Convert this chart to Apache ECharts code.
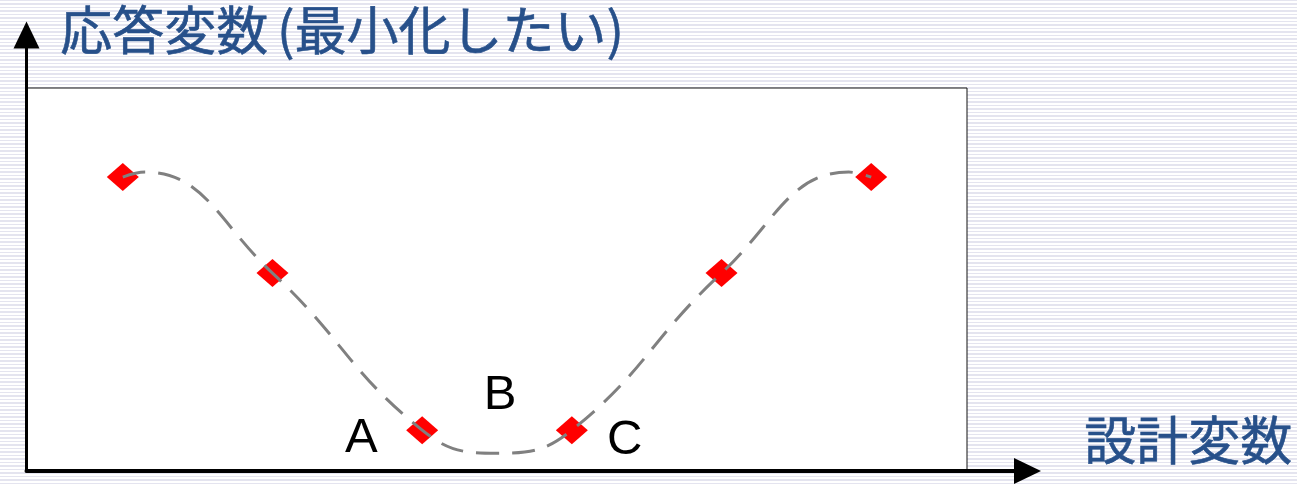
<!DOCTYPE html>
<html>
<head>
<meta charset="utf-8">
<script src="https://cdn.jsdelivr.net/npm/echarts@6/dist/echarts.min.js"></script>
<style>
html,body{margin:0;padding:0;}
body{width:1297px;height:485px;overflow:hidden;
background:repeating-linear-gradient(to bottom,#e4e4ef 0px,#e4e4ef 1.5px,#ffffff 1.5px,#ffffff 3.5px);}
#c{width:1297px;height:485px;}
</style>
</head>
<body>
<div id="c"></div>
<script>
// Sample design points (x, response)
const pointX = [1, 2, 3, 4, 5, 6];
const pointY = [7.68, 5.18, 1.09, 1.09, 5.18, 7.68];
// Dashed response curve
const curveX = [1, 1.15, 2, 3, 3.5, 4, 5, 5.85, 6];
const curveY = [7.68, 7.81, 5.18, 1.09, 0.49, 1.09, 5.18, 7.81, 7.68];
// Point labels
const labelNames = ['A', 'B', 'C'];
const labelX = [2.593, 3.52, 4.353];
const labelY = [0.88, 1.98, 0.81];
const yTitle = '応答変数\u2006(最小化したい)';
const xTitle = '設計変数';

const chart = echarts.init(document.getElementById('c'), null, {renderer: 'canvas'});
const hidden = {show: false};
chart.setOption({
  animation: false,
  backgroundColor: 'transparent',
  grid: [
    {left: 27, top: 88, width: 940, height: 384, show: true, backgroundColor: '#ffffff', borderColor: '#111111', borderWidth: 1, z: 1},
    {left: 26.5, top: 35, width: 1001, height: 436, show: false, z: 5}
  ],
  xAxis: [
    {gridIndex: 0, type: 'value', min: 0.36, max: 6.64, axisLine: hidden, axisTick: hidden, axisLabel: hidden, splitLine: hidden},
    {gridIndex: 1, type: 'value', min: 0, max: 1, position: 'bottom', z: 10,
     axisLine: {show: true, symbol: ['none', 'triangle'], symbolSize: [26, 27], lineStyle: {color: '#000', width: 4}},
     axisTick: hidden, axisLabel: hidden, splitLine: hidden}
  ],
  yAxis: [
    {gridIndex: 0, type: 'value', min: 0, max: 10, axisLine: hidden, axisTick: hidden, axisLabel: hidden, splitLine: hidden},
    {gridIndex: 1, type: 'value', min: 0, max: 1, position: 'left', z: 10,
     axisLine: {show: true, symbol: ['none', 'triangle'], symbolSize: [26, 27], lineStyle: {color: '#000', width: 3}},
     axisTick: hidden, axisLabel: hidden, splitLine: hidden}
  ],
  graphic: [
    {type: 'text', left: 60, top: 4, z: 20, style: {text: yTitle, fill: '#27508a', stroke: '#27508a', lineWidth: 0.6, font: '52px "Noto Sans CJK JP"'}},
    {type: 'text', left: 1084, top: 414, z: 20, style: {text: xTitle, fill: '#27508a', stroke: '#27508a', lineWidth: 0.6, font: '52px "Noto Sans CJK JP"'}}
  ],
  series: [
    {type: 'scatter', xAxisIndex: 0, yAxisIndex: 0, z: 3, symbol: 'diamond', symbolSize: [32, 28],
     itemStyle: {color: '#ff0000', opacity: 1}, data: pointX.map((x, i) => [x, pointY[i]])},
    {type: 'line', xAxisIndex: 0, yAxisIndex: 0, z: 4, smooth: 0.45, showSymbol: false, symbol: 'none',
     lineStyle: {color: '#808080', width: 3, type: [23, 13]}, data: curveX.map((x, i) => [x, curveY[i]])},
    {type: 'scatter', xAxisIndex: 0, yAxisIndex: 0, z: 5, symbolSize: 0, itemStyle: {opacity: 1},
     label: {show: true, position: 'inside', formatter: p => p.name, color: '#000000', fontSize: 49, fontFamily: 'Liberation Sans'},
     data: labelNames.map((n, i) => ({name: n, value: [labelX[i], labelY[i]]}))}
  ]
});
</script>
</body>
</html>
